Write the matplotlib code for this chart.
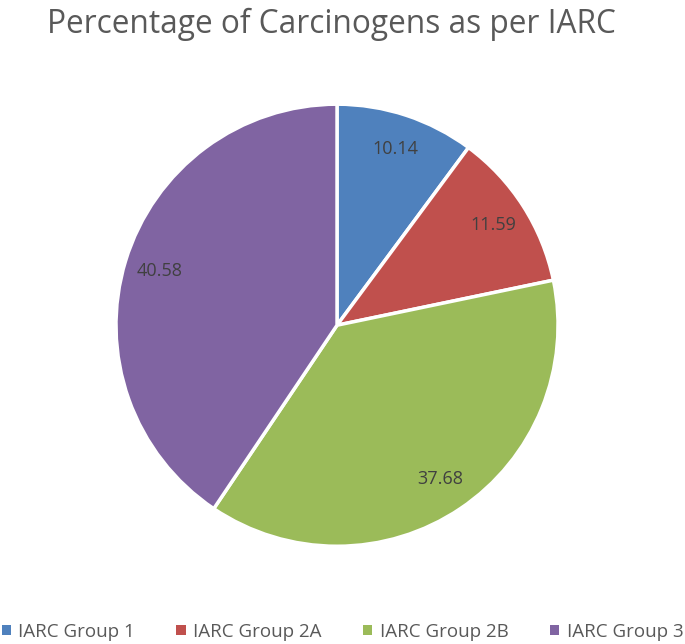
import matplotlib.pyplot as plt
from matplotlib.patches import Patch

categories = ['IARC Group 1', 'IARC Group 2A', 'IARC Group 2B', 'IARC Group 3']
values = [10.14, 11.59, 37.68, 40.58]
colors = ['#4F81BD', '#C0504D', '#9BBB59', '#8064A2']

plt.rcParams['font.family'] = ['Open Sans', 'DejaVu Sans']

fig = plt.figure(figsize=(6.85, 6.44), dpi=100)
ax = fig.add_axes([0.492 - 0.3227, 0.495 - 0.3432, 0.6454, 0.6864])

wedges, texts = ax.pie(values, labels=['%.2f' % v for v in values],
                       colors=colors, startangle=90, counterclock=False,
                       labeldistance=0.84,
                       wedgeprops=dict(edgecolor='white', linewidth=2.5))
for t in texts:
    t.set_ha('center')
    t.set_va('center')
    t.set_fontsize(13)
    t.set_color('#404040')
ax.set_xlim(-1.0, 1.0)
ax.set_ylim(-1.0, 1.0)
ax.set_aspect('equal')

fig.text(0.484, 0.962, 'Percentage of Carcinogens as per IARC',
         ha='center', va='center', fontsize=22.8, color='#595959')

handles = [Patch(facecolor=c, edgecolor='none') for c in colors]
fig.legend(handles, categories, loc='center', bbox_to_anchor=(0.5, 0.019),
           ncol=4, frameon=False, fontsize=13.5, labelcolor='#595959',
           handlelength=0.5, handleheight=0.5, handletextpad=0.4,
           columnspacing=2.2)

fig.savefig('out.png', dpi=100, facecolor='white')
